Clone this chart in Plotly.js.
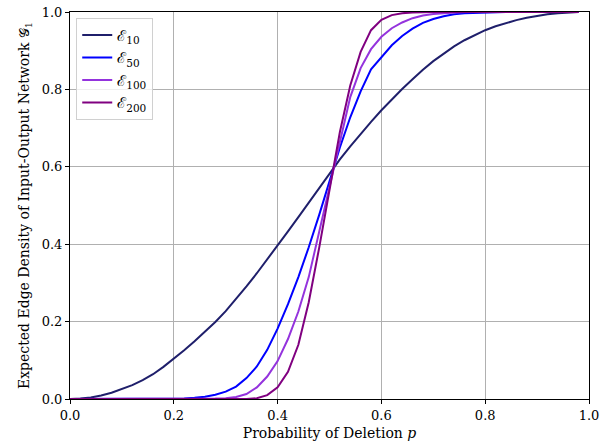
<!DOCTYPE html>
<html>
<head>
<meta charset="utf-8">
<script src="https://cdn.plot.ly/plotly-3.0.1.min.js"></script>
<style>html,body{margin:0;padding:0;background:#fff;}#chart{width:607px;height:446px;}</style>
</head>
<body>
<div id="chart"></div>
<script>
// deletion probability p: 0, 0.02, ..., 0.98
const pValues = [0.00,0.02,0.04,0.06,0.08,0.10,0.12,0.14,0.16,0.18,0.20,0.22,0.24,0.26,0.28,0.30,0.32,0.34,0.36,0.38,0.40,0.42,0.44,0.46,0.48,0.50,0.52,0.54,0.56,0.58,0.60,0.62,0.64,0.66,0.68,0.70,0.72,0.74,0.76,0.78,0.80,0.82,0.84,0.86,0.88,0.90,0.92,0.94,0.96,0.98];

const e10 = [0.000,0.001,0.004,0.009,0.016,0.025,0.036,0.049,0.064,0.083,0.104,0.126,0.149,0.173,0.199,0.227,0.258,0.291,0.325,0.360,0.396,0.433,0.470,0.508,0.546,0.583,0.619,0.653,0.685,0.716,0.746,0.774,0.801,0.826,0.851,0.873,0.893,0.911,0.927,0.941,0.953,0.963,0.972,0.979,0.985,0.990,0.994,0.997,0.999,1.000];

const e50 = [0,0,0,0,0,0,0,0,0,0,0.0005,0.001,0.003,0.006,0.011,0.019,0.032,0.054,0.084,0.127,0.182,0.245,0.315,0.392,0.475,0.562,0.650,0.728,0.795,0.852,0.884,0.914,0.938,0.957,0.972,0.982,0.989,0.994,0.997,0.998,0.999,1,1,1,1,1,1,1,1,1];

const e100 = [0,0,0,0,0,0,0,0,0,0,0,0,0,0.0003,0.001,0.002,0.005,0.013,0.030,0.058,0.098,0.155,0.226,0.315,0.432,0.552,0.670,0.780,0.855,0.904,0.936,0.958,0.973,0.984,0.991,0.995,0.997,0.999,1,1,1,1,1,1,1,1,1,1,1,1];

const e200 = [0,0,0,0,0,0,0,0,0,0,0,0,0,0,0,0,0,0,0.002,0.010,0.030,0.070,0.140,0.250,0.390,0.540,0.690,0.810,0.897,0.953,0.980,0.992,0.997,0.999,1,1,1,1,1,1,1,1,1,1,1,1,1,1,1,1];

const seriesNames = ['ℰ<sub>10</sub>','ℰ<sub>50</sub>','ℰ<sub>100</sub>','ℰ<sub>200</sub>'];
const seriesData = [e10, e50, e100, e200];
const seriesColors = ['#1f1f6b','#0000ff','#9433dd','#800080'];

const traces = seriesData.map((ys, i) => ({
  x: pValues, y: ys, type: 'scatter', mode: 'lines',
  name: seriesNames[i],
  line: {color: seriesColors[i], width: 2}
}));

const axisCommon = {
  range: [0, 1], dtick: 0.2, tickformat: '.1f',
  showgrid: true, gridcolor: '#b0b0b0', gridwidth: 1,
  zeroline: false, showline: true, linecolor: '#000', linewidth: 1, mirror: true,
  ticks: 'outside', ticklen: 4, tickcolor: '#000',
  tickfont: {family: 'DejaVu Serif', size: 13, color: '#000'}
};

const layout = {
  width: 607, height: 446,
  margin: {l: 70, r: 18, t: 12, b: 47},
  paper_bgcolor: '#fff', plot_bgcolor: '#fff',
  font: {family: 'DejaVu Serif', color: '#000'},
  xaxis: Object.assign({}, axisCommon, {
    title: {text: 'Probability of Deletion <i>p</i>', font: {family: 'DejaVu Serif', size: 14}, standoff: 6}
  }),
  yaxis: Object.assign({}, axisCommon, {
    title: {text: 'Expected Edge Density of Input-Output Network 𝒢<sub>1</sub>', font: {family: 'DejaVu Serif', size: 14}, standoff: 8}
  }),
  showlegend: true,
  legend: {
    x: 0.012, y: 0.985, xanchor: 'left', yanchor: 'top',
    bgcolor: 'rgba(255,255,255,0.8)', bordercolor: '#d0d0d0', borderwidth: 1,
    font: {family: 'DejaVu Serif', size: 15},
    tracegroupgap: 0
  }
};

Plotly.newPlot('chart', traces, layout, {displayModeBar: false, staticPlot: true});
</script>
</body>
</html>
